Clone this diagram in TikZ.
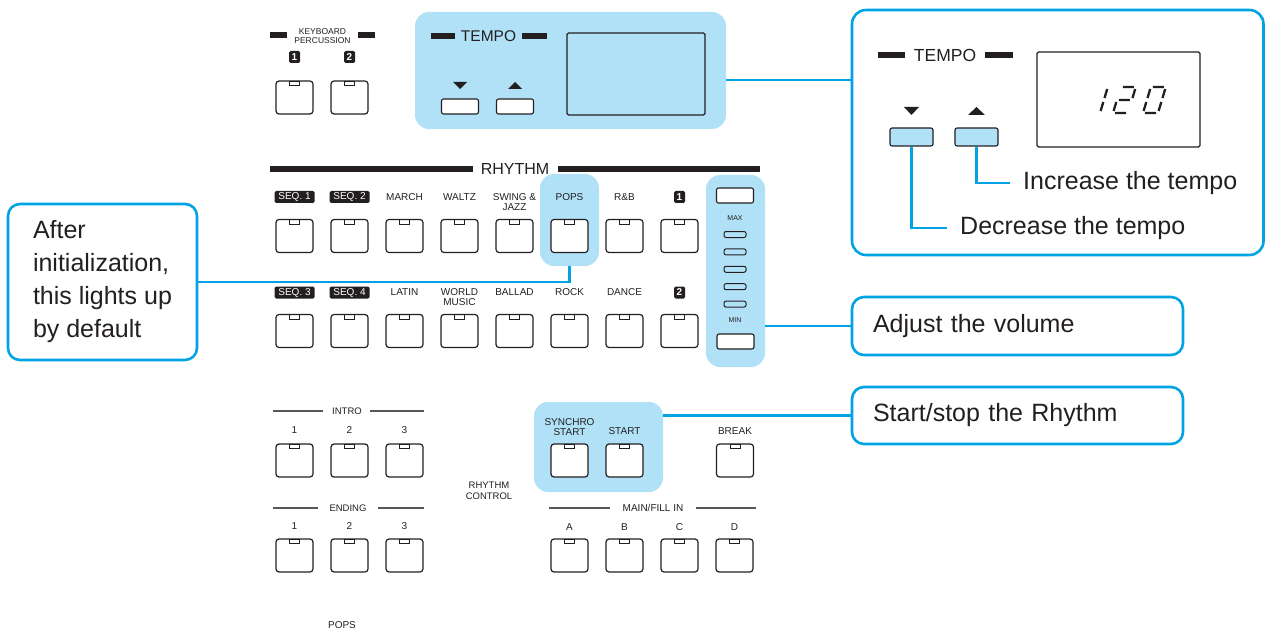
\documentclass[tikz,border=0pt]{standalone}
\usepackage{fontspec}
\setmainfont{Liberation Sans}
\usepackage{tikz}
\usetikzlibrary{positioning, calc}

\definecolor{ink}{RGB}{35,31,32}
\definecolor{callout}{RGB}{0,163,227}
\definecolor{panel}{RGB}{176,225,247}

\tikzstyle{pad} = [rectangle, draw=ink, fill=white, line width=1.2pt,
    rounded corners=3pt, minimum width=37pt, minimum height=33pt, inner sep=0,
    path picture={\draw[ink, line width=0.9pt, sharp corners]
        ([xshift=-5pt]path picture bounding box.north) rectangle
        ([xshift=5pt, yshift=-4.5pt]path picture bounding box.north);}]
\tikzstyle{key} = [rectangle, draw=ink, fill=white, line width=1.1pt,
    rounded corners=2pt, minimum width=37pt, minimum height=15pt, inner sep=0]
\tikzstyle{led} = [rectangle, draw=ink, line width=1pt, rounded corners=2pt,
    minimum width=22pt, minimum height=6pt, inner sep=0]
\tikzstyle{screen} = [rectangle, draw=ink, line width=1.2pt, rounded corners=1.5pt,
    inner sep=0]
\tikzstyle{lbl} = [text=ink, font=\fontsize{10}{10.5}\selectfont, align=center, inner sep=0]
\tikzstyle{tag} = [rectangle, fill=ink, text=white, rounded corners=1.5pt,
    font=\fontsize{10}{10}\selectfont, minimum width=40pt, minimum height=12pt, inner sep=0]
\tikzstyle{badge} = [tag, minimum width=11pt, minimum height=12pt,
    font=\bfseries\fontsize{10}{10}\selectfont]
\tikzstyle{glow} = [rectangle, fill=panel, rounded corners=14pt, inner sep=0]
\tikzstyle{frame} = [rectangle, draw=callout, line width=2.6pt, fill=white,
    rounded corners=14pt, inner sep=0]
\tikzstyle{note} = [rectangle, draw=callout, line width=2.6pt, fill=white,
    rounded corners=12pt, text=ink, font=\fontsize{25}{33}\selectfont,
    align=left, inner ysep=0]
\tikzstyle{say} = [text=ink, font=\fontsize{25}{30}\selectfont, inner xsep=13pt, inner ysep=0]
\tikzstyle{link} = [draw=callout, line width=2.4pt]
\tikzstyle{rule} = [draw=ink!75, line width=1.2pt]

\begin{document}
\begin{tikzpicture}[x=1pt, y=-1pt, node distance=55pt]
    \useasboundingbox (0,0) rectangle (1266,631);

    % Highlighted areas
    \node[glow, minimum width=311pt, minimum height=117pt] (tempohl) at (570.5,70.5) {};
    \node[glow, minimum width=59pt, minimum height=92pt] (popshl) at (569.5,220) {};
    \node[glow, minimum width=59pt, minimum height=192pt] (volhl) at (735.5,271) {};
    \node[glow, minimum width=129pt, minimum height=90pt] (synchl) at (598.5,447) {};

    % Keyboard percussion
    \fill[ink] (270,32) rectangle (287,38);
    \fill[ink] (358,32) rectangle (375,38);
    \node[lbl, font=\fontsize{8.5}{8.5}\selectfont] (kplabel) at (322.5,36) {KEYBOARD\\PERCUSSION};
    \node[badge] at (294.5,57) {1};
    \node[badge] at (349.5,57) {2};
    \node[pad] (kp1) at (294.5,97.5) {};
    \node[pad, right of=kp1] (kp2) {};

    % Tempo
    \fill[ink] (431,33) rectangle (455,39);
    \node[lbl, font=\fontsize{15.5}{15.5}\selectfont] (tempo) at (488.5,36) {TEMPO};
    \fill[ink] (522,33) rectangle (547,39);
    \fill[ink] (453,82) -- (467,82) -- (460,89) -- cycle;
    \fill[ink] (508,89) -- (522,89) -- (515,82) -- cycle;
    \node[key] (down) at (460,106.5) {};
    \node[key, right of=down] (up) {};
    \node[screen, minimum width=138pt, minimum height=82pt] (lcd) at (636,74) {};

    % Tempo close-up
    \node[frame, minimum width=411.5pt, minimum height=245pt] (tempobox) at (1057.75,132.5) {};
    \fill[ink] (878,52) rectangle (905,58);
    \node[lbl, font=\fontsize{17.5}{17.5}\selectfont] (tempo2) at (945,55) {TEMPO};
    \fill[ink] (985,52) rectangle (1013,58);
    \fill[ink] (904,107) -- (919,107) -- (911.5,115) -- cycle;
    \fill[ink] (968,115) -- (985,115) -- (976.5,107) -- cycle;
    \node[key, fill=panel, minimum width=43pt, minimum height=18pt] (dec) at (911.5,137) {};
    \node[key, fill=panel, minimum width=43pt, minimum height=18pt] (inc) at (976.5,137) {};
    \node[screen, minimum width=163pt, minimum height=95pt] (bigscreen) at (1118.5,99.5) {};
    % 1 2 0 in segments
    \begin{scope}[shift={(1085pt,-113pt)}, x=1pt, y=1pt, xslant=0.3, draw=ink, line width=2.3pt]
        \draw (15,24) -- (15,15) (15,11) -- (15,2);
    \end{scope}
    \begin{scope}[shift={(1113pt,-113pt)}, x=1pt, y=1pt, xslant=0.3, draw=ink, line width=2.3pt]
        \draw (2,26) -- (13,26) (15,24) -- (15,15) (2,13) -- (13,13)
              (0,11) -- (0,2) (2,0) -- (13,0);
    \end{scope}
    \begin{scope}[shift={(1143pt,-113pt)}, x=1pt, y=1pt, xslant=0.3, draw=ink, line width=2.3pt]
        \draw (2,26) -- (13,26) (15,24) -- (15,15) (15,11) -- (15,2)
              (2,0) -- (13,0) (0,2) -- (0,11) (0,15) -- (0,24);
    \end{scope}
    \node[say, anchor=west] (inctext) at (1010,183) {Increase the tempo};
    \node[say, anchor=west] (dectext) at (947,228) {Decrease the tempo};
    \path[link] (inc.south) |- (inctext.west);
    \path[link] (dec.south) |- (dectext.west);
    \coordinate (tp) at ([yshift=-9.5pt]tempohl.east);
    \path[link] (tp) -- (tp -| tempobox.west);

    % Rhythm
    \fill[ink] (270,166) rectangle (473,172);
    \node[lbl, font=\fontsize{16}{16}\selectfont] (rhythm) at (515,169) {RHYTHM};
    \fill[ink] (558,166) rectangle (760,172);
    \foreach \name [count=\i from 0] in {seq1, seq2, march, waltz, swing, pops, rnb, var1}
        \node[pad] (\name) at (294.5+55*\i,236) {};
    \foreach \name [count=\i from 0] in {seq3, seq4, latin, world, ballad, rock, dance, var2}
        \node[pad] (\name) at (294.5+55*\i,331) {};
    \node[tag] at (294.5,197) {SEQ. 1};
    \node[tag] at (349.5,197) {SEQ. 2};
    \foreach \x/\t in {404.5/MARCH, 459.5/WALTZ, 514.5/{SWING \&\\JAZZ}, 569.5/POPS, 624.5/R\&B}
        \node[lbl, anchor=north] at (\x,193) {\t};
    \node[badge] at (679.5,197) {1};
    \node[tag] at (294.5,292.5) {SEQ. 3};
    \node[tag] at (349.5,292.5) {SEQ. 4};
    \foreach \x/\t in {404.5/LATIN, 459.5/{WORLD\\MUSIC}, 514.5/BALLAD, 569.5/ROCK, 624.5/DANCE}
        \node[lbl, anchor=north] at (\x,288) {\t};
    \node[badge] at (679.5,292.5) {2};

    % Volume
    \node[key] (volup) at (735,195.5) {};
    \node[lbl, font=\fontsize{7}{7}\selectfont] at (735,218) {MAX};
    \foreach \k in {0,...,4}
        \node[led] (led\k) at (735,234.5+17.4*\k) {};
    \node[lbl, font=\fontsize{7}{7}\selectfont] at (735,320) {MIN};
    \node[key] (voldown) at (735.5,341.5) {};

    % Intro / ending
    \draw[rule] (273,411) -- (323,411);
    \node[lbl, font=\fontsize{9.5}{9.5}\selectfont] (intro) at (347,411) {INTRO};
    \draw[rule] (370,411) -- (424,411);
    \draw[rule] (273,508) -- (318,508);
    \node[lbl, font=\fontsize{9.5}{9.5}\selectfont] (ending) at (348,508) {ENDING};
    \draw[rule] (378,508) -- (424,508);
    \foreach \n [count=\i from 0] in {1,2,3} {
        \node[lbl, anchor=north] at (294.5+55*\i,426) {\n};
        \node[pad] (intro\n) at (294.5+55*\i,460.5) {};
        \node[lbl, anchor=north] at (294.5+55*\i,522) {\n};
        \node[pad] (ending\n) at (294.5+55*\i,555.5) {};
    }
    \node[lbl, font=\fontsize{9.5}{10.5}\selectfont] (rhythmctrl) at (489,491) {RHYTHM\\CONTROL};

    % Start, break, main/fill in
    \node[lbl, anchor=north] at (569.5,418) {SYNCHRO\\START};
    \node[pad] (synchro) at (569.5,460.5) {};
    \node[lbl, anchor=north] at (624.5,427) {START};
    \node[pad] (start) at (624.5,460.5) {};
    \node[lbl, anchor=north] at (735,427) {BREAK};
    \node[pad] (break) at (735,460.5) {};
    \draw[rule] (549,508) -- (610,508);
    \node[lbl] (mainfill) at (653,508) {MAIN/FILL IN};
    \draw[rule] (696,508) -- (756,508);
    \foreach \n [count=\i from 0] in {A,B,C,D} {
        \node[lbl, anchor=north] at (569.5+55*\i,523) {\n};
        \node[pad] (main\n) at (569.5+55*\i,555.5) {};
    }
    \node[lbl] (poptext) at (342,625) {POPS};

    % Callouts
    \node[note, minimum width=189pt, minimum height=156pt, inner xsep=0pt]
          (after) at (102.5,282) {After\\initialization,\\this lights up\\by default};
    \path[link] (popshl.south) |- (after.east);
    \node[note, minimum width=331pt, minimum height=58pt, text width=289pt,
          inner xsep=21pt] (volnote) at (1017.5,326) {Adjust the volume};
    \path[link] (volnote.west -| volhl.east) -- (volnote.west);
    \node[note, minimum width=331pt, minimum height=57pt, text width=289pt,
          inner xsep=21pt] (startnote) at (1017.5,415.5) {Start/stop the Rhythm};
    \path[link] (startnote.west -| synchl.east) -- (startnote.west);
\end{tikzpicture}
\end{document}
